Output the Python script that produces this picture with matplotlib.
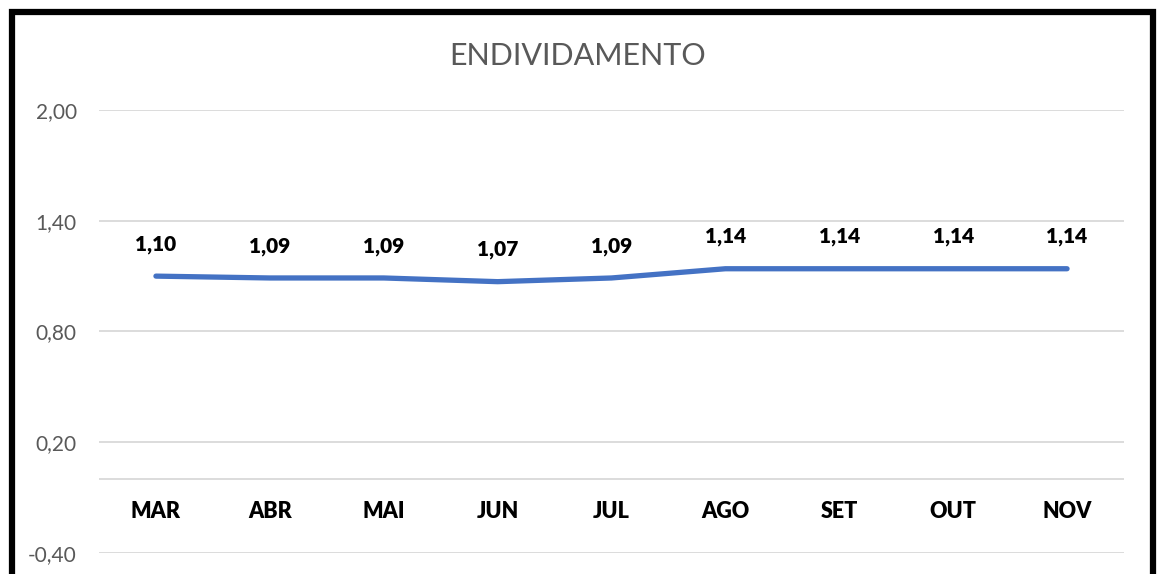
import matplotlib
matplotlib.use("Agg")
import matplotlib.pyplot as plt
from matplotlib.patches import Rectangle

months = ["MAR", "ABR", "MAI", "JUN", "JUL", "AGO", "SET", "OUT", "NOV"]
valores = [1.10, 1.09, 1.09, 1.07, 1.09, 1.14, 1.14, 1.14, 1.14]
yticks = [-0.40, 0.20, 0.80, 1.40, 2.00]

plt.rcParams["font.family"] = ["Lato", "DejaVu Sans"]

fig = plt.figure(figsize=(11.6, 5.74), dpi=100)
ax = fig.add_axes([99 / 1160, 21 / 574, 1025 / 1160, 443 / 574])

x = list(range(len(months)))
ax.plot(x, valores, color="#4472C4", lw=3.8, solid_capstyle="round", zorder=3)

for xi, v in zip(x, valores):
    ax.annotate(f"{v:.2f}".replace(".", ","), (xi, v), xytext=(0, 23),
                textcoords="offset points", ha="center", va="center",
                fontsize=15, fontweight="heavy", color="black")

# category labels sit just under the zero line
for xi, m in zip(x, months):
    ax.text(xi, -0.175, m, ha="center", va="center", fontsize=15.5,
            fontweight="heavy", color="black")

ax.set_xlim(-0.5, len(months) - 0.5)
ax.set_ylim(-0.40, 2.00)
ax.set_yticks(yticks)
ax.set_yticklabels([f"{t:.2f}".replace(".", ",") for t in yticks],
                   fontsize=15, color="#595959")
ax.set_xticks([])
ax.tick_params(axis="y", length=0, pad=16)
for t in yticks:
    ax.axhline(t, color="#d9d9d9", lw=1.3, zorder=1)
ax.axhline(0, color="#d9d9d9", lw=1.3, zorder=1)
for s in ax.spines.values():
    s.set_visible(False)

fig.text(578 / 1160, 1 - 56 / 574, "ENDIVIDAMENTO", ha="center", va="center",
         fontsize=22, color="#595959")

# black frame around the chart, bottom edge runs off the picture
fig.patches.append(Rectangle((12 / 1160, -0.05), 1141 / 1160, 1.05 - 12 / 574,
                             transform=fig.transFigure, fill=False,
                             edgecolor="black", lw=4.5))

fig.savefig("out.png", dpi=100)
